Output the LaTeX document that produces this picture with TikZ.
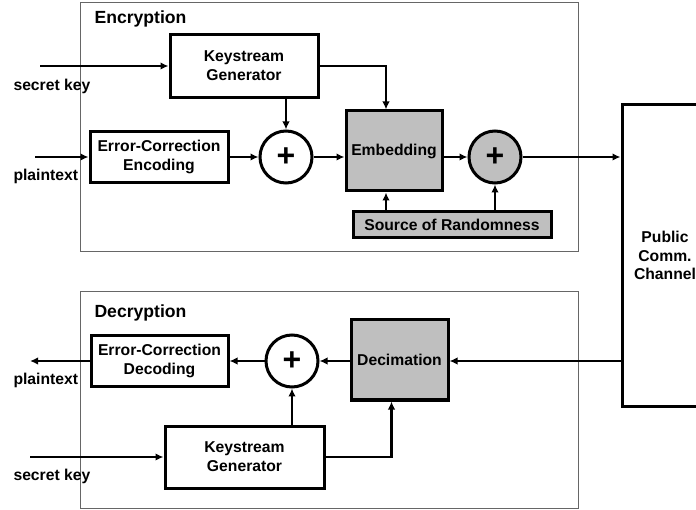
\documentclass[tikz,border=0pt]{standalone}
\usepackage{fontspec}
\setmainfont{Liberation Sans}
\usetikzlibrary{arrows,arrows.meta,shapes}

\begin{document}
\begin{tikzpicture}[x=1pt,y=-1pt]

		\tikzstyle{every node}=[font=\fontsize{15.7}{18.7}\selectfont\bfseries]
		\tikzstyle{frame}=[draw=black!60, line width=1pt]
		\tikzstyle{heading}=[anchor=west, font=\fontsize{17.6}{20}\selectfont\bfseries]
		\tikzstyle{block}=[draw, line width=3pt, align=center, inner sep=0pt]
		\tikzstyle{shaded}=[block, fill=black!25]
		\tikzstyle{adder}=[draw, circle, line width=3pt, minimum size=52pt, inner sep=0pt, font=\fontsize{32}{32}\selectfont\bfseries]
		\tikzstyle{label}=[anchor=west]
		\tikzstyle{conn}=[line width=2.8pt, -{Latex[length=8pt,width=7.5pt]}]

		\useasboundingbox (0,0) rectangle (696,510);

		% encryption
		\draw[frame] (80,3) rectangle (578,252);
		\node[heading] (enctitle) at (91,19) {Encryption};

		\node[block, minimum width=148pt, minimum height=63pt] (kgen1) at (244,66) {Keystream\\Generator};
		\node[block, minimum width=138pt, minimum height=51pt] (ecenc) at (159,157) {Error-Correction\\Encoding};
		\node[adder] (add1) at (286,157) {+};
		\node[shaded, minimum width=96pt, minimum height=80pt] (embed) at (394,151) {Embedding};
		\node[adder, fill=black!25] (add2) at (495,157) {+};
		\node[shaded, minimum width=198pt, minimum height=26pt] (random) at (452,225) {Source of Randomness};

		\coordinate (key1) at (40,66);
		\coordinate (text1) at (35,157);
		\node[label] (keylab1) at (10,86) {secret key};
		\node[label] (textlab1) at (10,176) {plaintext};

		% channel
		\node[block, minimum width=86pt, minimum height=301pt] (chan) at (665,255.5) {Public\\Comm.\\Channel};

		\draw[conn] (key1) -- (kgen1.west);
		\draw[conn] (text1) -- (ecenc.west);
		\draw[conn] (ecenc.east) -- (add1.west);
		\draw[conn] (kgen1.south -| add1) -- (add1.north);
		\draw[conn] (add1.east) -- (add1 -| embed.west);
		\draw[conn] (kgen1.east) -| ([xshift=-8pt]embed.north);
		\draw[conn] ([xshift=-8pt]embed.south |- random.north) -- ([xshift=-8pt]embed.south);
		\draw[conn] (add2 -| embed.east) -- (add2.west);
		\draw[conn] (random.north -| add2) -- (add2.south);
		\draw[conn] (add2.east) -- (add2 -| chan.west);

		% decryption
		\draw[frame] (80,292) rectangle (578,508);
		\node[heading] (dectitle) at (91,313) {Decryption};

		\node[block, minimum width=137pt, minimum height=51pt] (ecdec) at (159.5,361) {Error-Correction\\Decoding};
		\node[adder] (add3) at (292,361) {+};
		\node[shaded, minimum width=97pt, minimum height=80pt] (decim) at (399.5,360) {Decimation};
		\node[block, minimum width=159pt, minimum height=62pt] (kgen2) at (244.5,457) {Keystream\\Generator};

		\coordinate (text2) at (30,361);
		\coordinate (key2) at (30,457);
		\node[label] (textlab2) at (10,380) {plaintext};
		\node[label] (keylab2) at (10,476) {secret key};

		\draw[conn] (add3 -| chan.west) -- (add3 -| decim.east);
		\draw[conn] (add3 -| decim.west) -- (add3.east);
		\draw[conn] (add3.west) -- (ecdec.east);
		\draw[conn] (ecdec.west) -- (text2);
		\draw[conn] (key2) -- (kgen2.west);
		\draw[conn] (kgen2.north -| add3) -- (add3.south);
		\draw[conn] (kgen2.east) -| ([xshift=-8pt]decim.south);

\end{tikzpicture}
\end{document}
